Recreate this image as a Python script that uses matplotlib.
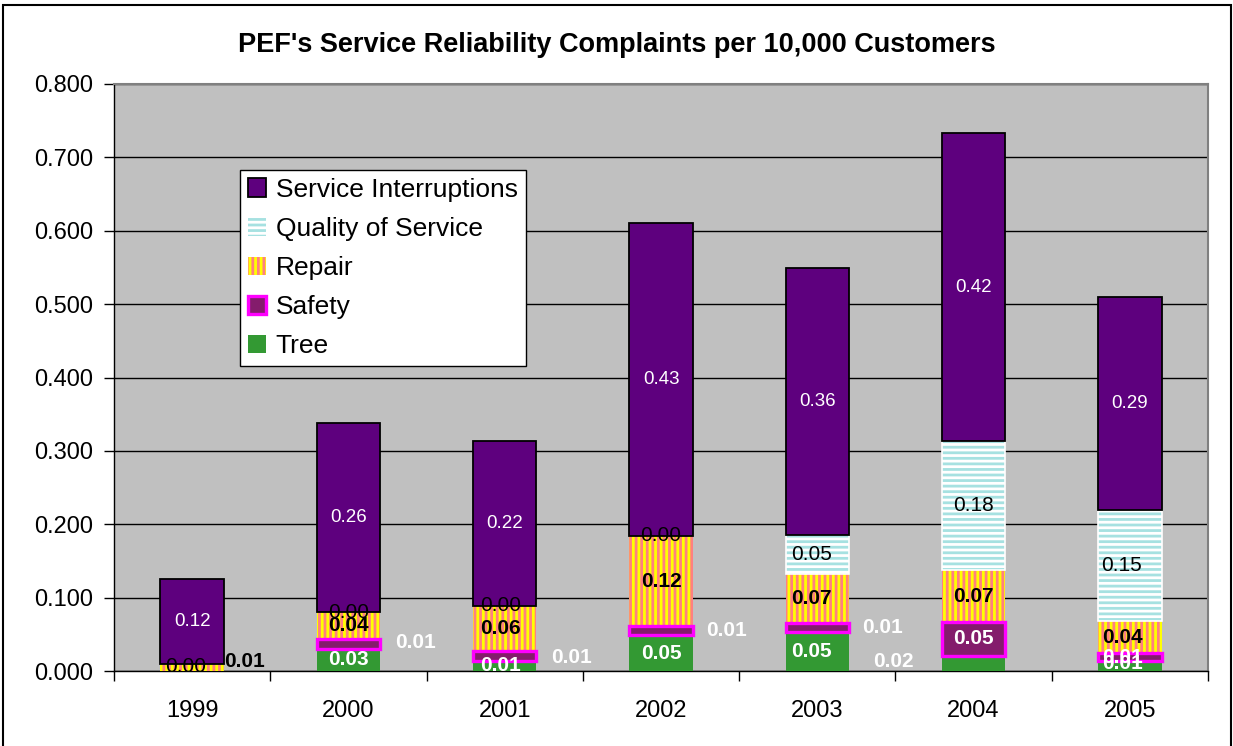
import numpy as np
import matplotlib
matplotlib.use("Agg")
import matplotlib.pyplot as plt
from matplotlib.patches import Rectangle

plt.rcParams['font.family'] = ['Liberation Sans', 'DejaVu Sans']
plt.rcParams['hatch.linewidth'] = 2.0

# ---------------- data ----------------
years = ['1999', '2000', '2001', '2002', '2003', '2004', '2005']
tree = [np.nan, 0.030, 0.014, 0.049, 0.053, 0.021, 0.013]
safety = [np.nan, 0.013, 0.013, 0.012, 0.012, 0.046, 0.011]
repair = [0.0095, 0.037, 0.062, 0.123, 0.067, 0.070, 0.044]
quality = [0.0, 0.0, 0.0, 0.0, 0.053, 0.176, 0.152]
interruptions = [0.116, 0.258, 0.224, 0.426, 0.364, 0.420, 0.290]
yticks = [0.0, 0.1, 0.2, 0.3, 0.4, 0.5, 0.6, 0.7, 0.8]
title = "PEF's Service Reliability Complaints per 10,000 Customers"

# ---------------- figure ----------------
W, H = 1233, 746
fig = plt.figure(figsize=(W / 100, H / 100), dpi=100)
L, R, T, B = 114, 1208, 84, 671
ax = fig.add_axes([L / W, 1 - B / H, (R - L) / W, (B - T) / H])
ax.set_facecolor('#C0C0C0')

x = np.arange(len(years))
width = 0.405

t = np.array(tree, dtype=float)
s = np.array(safety, dtype=float)
r = np.array(repair, dtype=float)
q = np.array(quality, dtype=float)
si = np.array(interruptions, dtype=float)

b0 = np.zeros(len(years))
b1 = b0 + np.nan_to_num(t)
b2 = b1 + np.nan_to_num(s)
b3 = b2 + r
b4 = b3 + q

bars_tree = ax.bar(x, t, width, bottom=b0, color='#339933', linewidth=0,
                   zorder=3, label='Tree')
bars_safety = ax.bar(x, s, width, bottom=b1, facecolor='#841C6C',
                     edgecolor='#FF00FF', linewidth=2.4, zorder=5, label='Safety')
bars_repair = ax.bar(x, r, width, bottom=b2, facecolor='#FFFF00',
                     edgecolor='#FF8080', hatch='|||', linewidth=0, zorder=3,
                     label='Repair')
bars_quality = ax.bar(x, q, width, bottom=b3, facecolor='white',
                      edgecolor='#A6E1E1', hatch='---', linewidth=0, zorder=3,
                      label='Quality of Service')
qmask = np.where(q > 0, q, np.nan)
ax.bar(x, qmask, width, bottom=b3, fill=False, edgecolor='white',
       linewidth=1.2, zorder=3.5)
bars_si = ax.bar(x, si, width, bottom=b4, color='#5E007E', edgecolor='black',
                 linewidth=1.3, zorder=4, label='Service Interruptions')

# ---------------- labels ----------------
series = [
    ('Tree', t, b0, dict(color='white', fontweight='bold', fontsize=15)),
    ('Safety', s, b1, dict(color='white', fontweight='bold', fontsize=15)),
    ('Repair', r, b2, dict(color='black', fontweight='bold', fontsize=15)),
    ('Quality', q, b3, dict(color='black', fontsize=15)),
    ('SI', si, b4, dict(color='white', fontsize=13.5)),
]
# manual label displacements (points) as in the original chart
offsets = {
    ('Repair', 0): (38, 4.5),
    ('Quality', 0): (-5, -1.5),
    ('Safety', 1): (48, 1),
    ('Safety', 2): (48, -1),
    ('Safety', 3): (47, 0),
    ('Safety', 4): (47, 0),
    ('Tree', 5): (-58, 1.5),
    ('Safety', 6): (-5, 0),
    ('Tree', 6): (-5, 2),
    ('Repair', 6): (-5, 0),
    ('Quality', 6): (-6, 0),
    ('Tree', 2): (-3, 0),
    ('Repair', 2): (-3, 0),
    ('Quality', 2): (-3, 0),
    ('Tree', 4): (-4, 0),
    ('Repair', 4): (-4, 0),
    ('Quality', 4): (-4, 0),
}
for name, vals, bots, style in series:
    for i, (v, b) in enumerate(zip(vals, bots)):
        if np.isnan(v):
            continue
        dx, dy = offsets.get((name, i), (0, 0))
        ax.annotate(f'{v:.2f}', (x[i], b + v / 2), xytext=(dx, dy),
                    textcoords='offset points', ha='center', va='center',
                    zorder=10, **style)

# ---------------- axes styling ----------------
ax.set_xlim(-0.5, len(years) - 0.5)
ax.set_ylim(0, 0.8)
ax.set_yticks(yticks)
ax.set_yticklabels([f'{v:.3f}' for v in yticks])
ax.set_axisbelow(True)
ax.yaxis.grid(True, color='black', linewidth=1.0, zorder=0)
ax.tick_params(axis='y', length=7, width=1, pad=8, labelsize=17, direction='out')

ax.set_xticks(np.arange(-0.5, len(years), 1.0))
ax.set_xticklabels([])
ax.set_xticks(x, minor=True)
ax.set_xticklabels(years, minor=True)
ax.tick_params(axis='x', which='major', length=7, width=1, direction='out')
ax.tick_params(axis='x', which='minor', length=0, pad=21, labelsize=17)

for side in ['left', 'bottom']:
    ax.spines[side].set_color('black')
    ax.spines[side].set_linewidth(1.0)
for side in ['top', 'right']:
    ax.spines[side].set_color('#808080')
    ax.spines[side].set_linewidth(1.5)

# ---------------- legend ----------------
handles = [bars_si, bars_quality, bars_repair, bars_safety, bars_tree]
labels = ['Service Interruptions', 'Quality of Service', 'Repair', 'Safety', 'Tree']
leg = ax.legend(handles, labels, loc='upper left',
                bbox_to_anchor=((240 - L) / (R - L), (B - 170) / (B - T)),
                borderaxespad=0, fontsize=19, frameon=True, fancybox=False,
                edgecolor='black', framealpha=1, facecolor='white',
                handlelength=0.7, handleheight=0.7, handletextpad=0.35,
                labelspacing=0.57, borderpad=0.3)
leg.get_frame().set_linewidth(1.0)
leg.set_zorder(20)

# ---------------- title & border ----------------
fig.text(0.5, 1 - 45 / H, title, ha='center', va='center', fontsize=19.5,
         fontweight='bold')
fig.patches.append(Rectangle((3 / W, -0.01), (1231 - 3) / W, (H - 5) / H + 0.01,
                             transform=fig.transFigure, fill=False,
                             edgecolor='black', linewidth=1.5))

fig.savefig('out.png', dpi=100)
